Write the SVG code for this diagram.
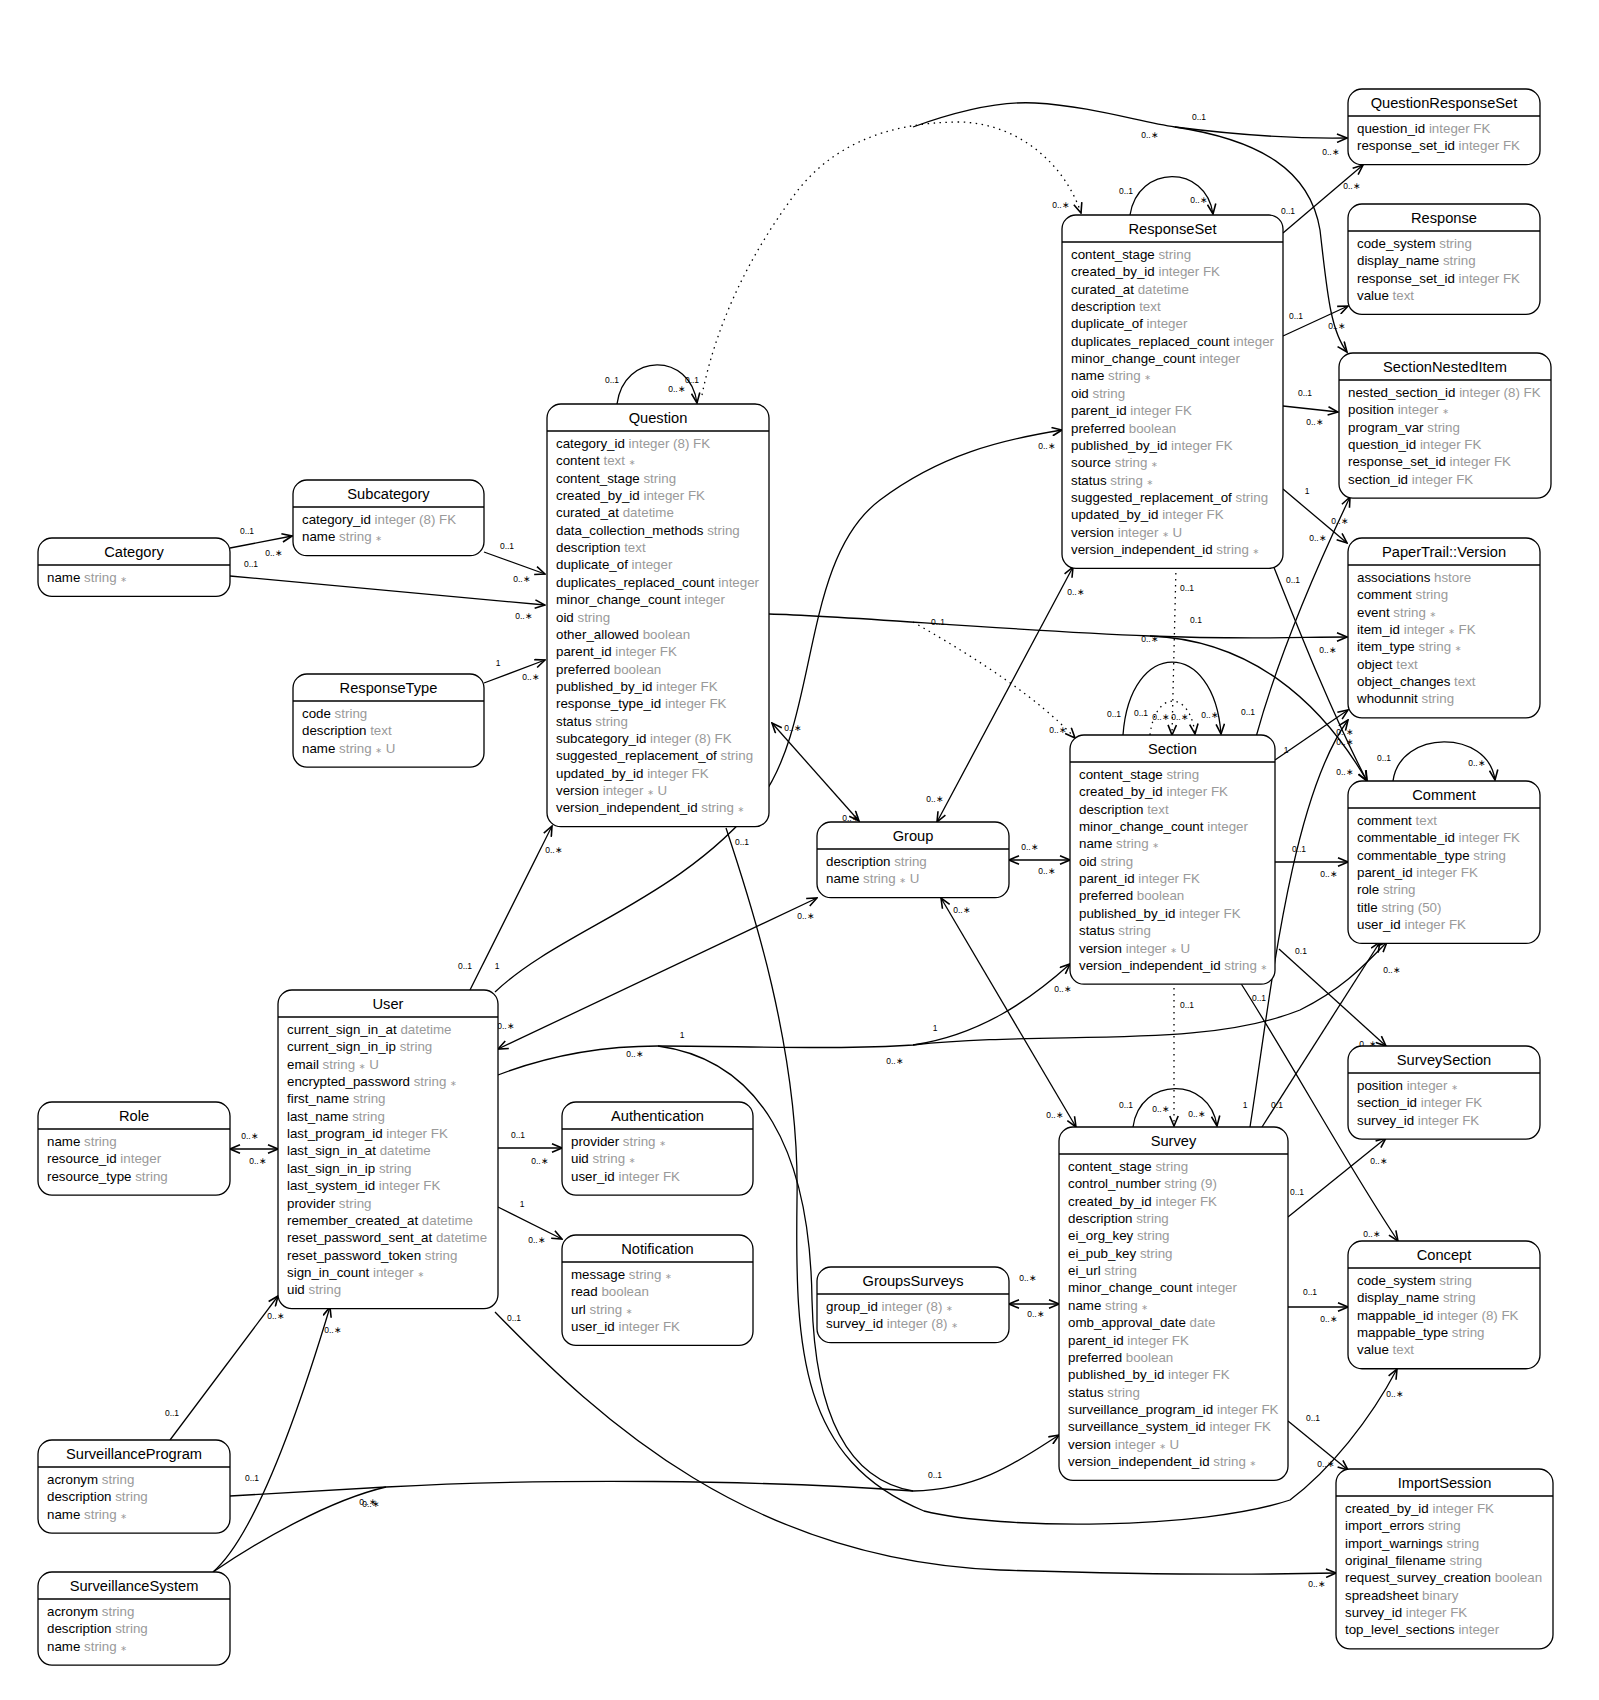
<svg xmlns="http://www.w3.org/2000/svg" width="1599" height="1700" viewBox="0 0 1599 1700">
<defs>
<style>
.box{fill:#fff;stroke:#000;stroke-width:1.3}
.hl{stroke:#000;stroke-width:1.3}
text{font-family:"Liberation Sans",Arial,sans-serif;fill:#000}
.t{font-size:14.67px;text-anchor:middle}
.a{font-size:13.33px}
.g{fill:#999}
.s{font-family:"DejaVu Sans",sans-serif;font-size:8px;fill:#999}
.e{fill:none;stroke:#000;stroke-width:1.3}
.d{stroke-dasharray:1.5 4.5}
.l{font-size:8.5px;text-anchor:middle}
</style>
<marker id="ar" viewBox="0 0 12 10" refX="11" refY="5" markerWidth="12" markerHeight="10" markerUnits="userSpaceOnUse" orient="auto-start-reverse"><path d="M1,0.8 L11,5 L1,9.2" fill="none" stroke="#000" stroke-width="1.6"/></marker>
</defs>
<rect width="1599" height="1700" fill="#fff"/>

<g id="connectors">
<path class="e" d="M230,548 L292,536" marker-end="url(#ar)"/>
<path class="e" d="M230,576 L545,605" marker-end="url(#ar)"/>
<path class="e" d="M484,552 L545,574" marker-end="url(#ar)"/>
<path class="e" d="M484,683 L545,660" marker-end="url(#ar)"/>
<path class="e" d="M617,404 C624,352 690,352 697,403" marker-end="url(#ar)"/>
<path class="e d" d="M702,395 C715,330 745,260 798,190 C830,150 880,122 961,122 C1020,124 1065,165 1081,213" marker-end="url(#ar)"/>
<path class="e" d="M913,127 C960,110 1000,101 1035,103 C1090,106 1140,122 1175,127 C1230,134 1290,139 1347,138" marker-end="url(#ar)"/>
<path class="e" d="M1175,127 C1260,140 1310,170 1320,230 C1327,290 1330,330 1347,352" marker-end="url(#ar)"/>
<path class="e" d="M1283,233 L1363,165" marker-end="url(#ar)"/>
<path class="e" d="M1283,336 L1348,306" marker-end="url(#ar)"/>
<path class="e" d="M1283,406 L1338,412" marker-end="url(#ar)"/>
<path class="e" d="M1283,489 L1347,543" marker-end="url(#ar)"/>
<path class="e" d="M1273,565 C1295,620 1330,710 1367,781" marker-end="url(#ar)"/>
<path class="e d" d="M1176,567 L1172,735" marker-end="url(#ar)"/>
<path class="e" d="M937,822 L1073,567" marker-start="url(#ar)" marker-end="url(#ar)"/>
<path class="e" d="M495,992 C560,930 680,900 760,800 C820,720 800,560 880,500 C940,455 1000,440 1062,430" marker-end="url(#ar)"/>
<path class="e" d="M470,990 L552,826" marker-end="url(#ar)"/>
<path class="e" d="M498,1049 L817,898" marker-start="url(#ar)" marker-end="url(#ar)"/>
<path class="e" d="M498,1148 L562,1148" marker-end="url(#ar)"/>
<path class="e" d="M498,1207 L562,1239" marker-end="url(#ar)"/>
<path class="e" d="M230,1149 L278,1149" marker-start="url(#ar)" marker-end="url(#ar)"/>
<path class="e" d="M170,1440 L278,1296" marker-end="url(#ar)"/>
<path class="e" d="M213,1572 C250,1540 290,1440 330,1307" marker-end="url(#ar)"/>
<path class="e" d="M230,1496 L386,1487"/>
<path class="e" d="M213,1572 C260,1540 330,1500 386,1487"/>
<path class="e" d="M386,1487 C550,1478 760,1480 913,1491 C980,1490 1020,1460 1059,1435" marker-end="url(#ar)"/>
<path class="e" d="M769,614 C850,616 1000,630 1150,636 C1250,640 1300,637 1347,637" marker-end="url(#ar)"/>
<path class="e" d="M1150,636 C1250,640 1320,700 1367,781" marker-end="url(#ar)"/>
<path class="e d" d="M913,622 C980,660 1040,700 1075,738" marker-end="url(#ar)"/>
<path class="e" d="M772,723 L859,821" marker-start="url(#ar)" marker-end="url(#ar)"/>
<path class="e" d="M1009,860 L1070,860" marker-start="url(#ar)" marker-end="url(#ar)"/>
<path class="e" d="M941,898 L1076,1127" marker-start="url(#ar)" marker-end="url(#ar)"/>
<path class="e" d="M1009,1304 L1059,1304" marker-start="url(#ar)" marker-end="url(#ar)"/>
<path class="e" d="M1256,737 C1280,650 1320,560 1350,497" marker-end="url(#ar)"/>
<path class="e" d="M1275,760 L1348,710" marker-end="url(#ar)"/>
<path class="e" d="M1250,1127 C1270,1000 1290,800 1348,720" marker-end="url(#ar)"/>
<path class="e" d="M1275,862 L1348,862" marker-end="url(#ar)"/>
<path class="e" d="M1279,949 L1386,1046" marker-end="url(#ar)"/>
<path class="e" d="M1288,1217 L1386,1138" marker-end="url(#ar)"/>
<path class="e" d="M1240,982 C1290,1060 1350,1170 1398,1241" marker-end="url(#ar)"/>
<path class="e" d="M1288,1307 L1348,1307" marker-end="url(#ar)"/>
<path class="e" d="M1288,1421 L1348,1470" marker-end="url(#ar)"/>
<path class="e" d="M1262,1127 L1380,942" marker-end="url(#ar)"/>
<path class="e" d="M495,1312 C600,1420 750,1560 1000,1570 C1150,1575 1250,1575 1336,1573" marker-end="url(#ar)"/>
<path class="e" d="M726,828 C750,900 800,1050 797,1200 C795,1350 800,1460 924,1511 C1000,1530 1200,1530 1290,1500 C1330,1470 1370,1420 1397,1369" marker-end="url(#ar)"/>
<path class="e" d="M498,1075 C550,1055 600,1046 658,1046 C740,1046 840,1050 913,1045 C980,1035 1030,1000 1070,964" marker-end="url(#ar)"/>
<path class="e" d="M913,1045 C1050,1030 1200,1050 1300,1010 C1340,990 1360,970 1387,942" marker-end="url(#ar)"/>
<path class="e" d="M658,1046 C760,1060 810,1150 812,1300 C815,1420 850,1480 913,1491"/>
<path class="e" d="M1123,735 C1130,638 1214,638 1221,734" marker-end="url(#ar)"/>
<path class="e d" d="M1150,735 C1155,690 1190,690 1195,734" marker-end="url(#ar)"/>
<path class="e" d="M1130,215 C1138,164 1206,164 1213,214" marker-end="url(#ar)"/>
<path class="e" d="M1133,1127 C1140,1076 1210,1076 1217,1126" marker-end="url(#ar)"/>
<path class="e d" d="M1174,982 L1174,1126" marker-end="url(#ar)"/>
<path class="e" d="M1393,781 C1400,729 1488,729 1495,780" marker-end="url(#ar)"/>

<g id="labels">
<text class="l" x="247" y="534">0..1</text><text class="l" x="274" y="556">0..∗</text>
<text class="l" x="251" y="567">0..1</text><text class="l" x="524" y="619">0..∗</text>
<text class="l" x="507" y="549">0..1</text><text class="l" x="522" y="582">0..∗</text>
<text class="l" x="498" y="666">1</text><text class="l" x="531" y="680">0..∗</text>
<text class="l" x="612" y="383">0..1</text><text class="l" x="677" y="392">0..∗</text>
<text class="l" x="692" y="383">0..1</text><text class="l" x="1061" y="208">0..∗</text>
<text class="l" x="1199" y="120">0..1</text><text class="l" x="1150" y="138">0..∗</text>
<text class="l" x="1331" y="155">0..∗</text>
<text class="l" x="1288" y="214">0..1</text><text class="l" x="1352" y="189">0..∗</text>
<text class="l" x="1296" y="319">0..1</text><text class="l" x="1337" y="329">0..∗</text>
<text class="l" x="1305" y="396">0..1</text><text class="l" x="1315" y="425">0..∗</text>
<text class="l" x="1307" y="494">1</text><text class="l" x="1340" y="524">0..∗</text>
<text class="l" x="1293" y="583">0..1</text><text class="l" x="1345" y="775">0..∗</text>
<text class="l" x="1187" y="591">0..1</text>
<text class="l" x="1076" y="595">0..∗</text><text class="l" x="935" y="802">0..∗</text>
<text class="l" x="497" y="969">1</text><text class="l" x="1047" y="449">0..∗</text>
<text class="l" x="465" y="969">0..1</text><text class="l" x="554" y="853">0..∗</text>
<text class="l" x="506" y="1029">0..∗</text><text class="l" x="806" y="919">0..∗</text>
<text class="l" x="518" y="1138">0..1</text><text class="l" x="540" y="1164">0..∗</text>
<text class="l" x="522" y="1207">1</text><text class="l" x="537" y="1243">0..∗</text>
<text class="l" x="250" y="1139">0..∗</text><text class="l" x="258" y="1164">0..∗</text>
<text class="l" x="172" y="1416">0..1</text><text class="l" x="276" y="1319">0..∗</text>
<text class="l" x="218" y="1529">0..1</text><text class="l" x="333" y="1333">0..∗</text>
<text class="l" x="252" y="1481">0..1</text><text class="l" x="368" y="1505">0..∗</text><text class="l" x="371" y="1507">0..∗</text>
<text class="l" x="938" y="625">0..1</text><text class="l" x="1196" y="623">0.1</text><text class="l" x="1150" y="642">0..∗</text><text class="l" x="1328" y="653">0..∗</text>
<text class="l" x="1058" y="733">0..∗</text>
<text class="l" x="793" y="731">0..∗</text><text class="l" x="851" y="821">0..∗</text>
<text class="l" x="1030" y="850">0..∗</text><text class="l" x="1047" y="874">0..∗</text>
<text class="l" x="962" y="913">0..∗</text><text class="l" x="1055" y="1118">0..∗</text>
<text class="l" x="1028" y="1281">0..∗</text><text class="l" x="1036" y="1317">0..∗</text>
<text class="l" x="1248" y="715">0..1</text><text class="l" x="1318" y="541">0..∗</text>
<text class="l" x="1286" y="753">1</text><text class="l" x="1345" y="735">0..∗</text>
<text class="l" x="1245" y="1108">1</text><text class="l" x="1345" y="745">0..∗</text>
<text class="l" x="1299" y="852">0..1</text><text class="l" x="1329" y="877">0..∗</text>
<text class="l" x="1301" y="954">0.1</text><text class="l" x="1368" y="1047">0..∗</text>
<text class="l" x="1297" y="1195">0..1</text><text class="l" x="1379" y="1164">0..∗</text>
<text class="l" x="1259" y="1001">0..1</text><text class="l" x="1372" y="1237">0..∗</text>
<text class="l" x="1310" y="1295">0..1</text><text class="l" x="1329" y="1322">0..∗</text>
<text class="l" x="1313" y="1421">0..1</text><text class="l" x="1326" y="1467">0..∗</text>
<text class="l" x="1277" y="1108">0.1</text><text class="l" x="1392" y="973">0..∗</text>
<text class="l" x="514" y="1321">0..1</text><text class="l" x="1317" y="1587">0..∗</text>
<text class="l" x="742" y="845">0..1</text><text class="l" x="1395" y="1397">0..∗</text>
<text class="l" x="682" y="1038">1</text><text class="l" x="635" y="1057">0..∗</text>
<text class="l" x="935" y="1031">1</text><text class="l" x="895" y="1064">0..∗</text><text class="l" x="1063" y="992">0..∗</text>
<text class="l" x="935" y="1478">0..1</text>
<text class="l" x="1126" y="194">0..1</text><text class="l" x="1199" y="203">0..∗</text>
<text class="l" x="1114" y="717">0..1</text><text class="l" x="1141" y="716">0..1</text><text class="l" x="1161" y="720">0..∗</text><text class="l" x="1180" y="720">0..∗</text><text class="l" x="1210" y="718">0..∗</text>
<text class="l" x="1126" y="1108">0..1</text><text class="l" x="1161" y="1112">0..∗</text><text class="l" x="1197" y="1117">0..∗</text><text class="l" x="1187" y="1008">0..1</text>
<text class="l" x="1384" y="761">0..1</text><text class="l" x="1477" y="766">0..∗</text>
</g>
</g>

<g id="Category" transform="translate(38,538)">
<rect class="box" width="192" height="58.35" rx="14"/><line class="hl" x1="0" y1="27" x2="192" y2="27"/>
<text class="t" x="96" y="18.5">Category</text>
<text class="a" x="9" y="44">name <tspan class="g">string</tspan> <tspan class="s">∗</tspan></text>
</g>

<g id="Subcategory" transform="translate(293,480)">
<rect class="box" width="191" height="75.7" rx="14"/><line class="hl" x1="0" y1="27" x2="191" y2="27"/>
<text class="t" x="95.5" y="18.5">Subcategory</text>
<text class="a" x="9" y="44">category_id <tspan class="g">integer (8) FK</tspan></text>
<text class="a" x="9" y="61.35">name <tspan class="g">string</tspan> <tspan class="s">∗</tspan></text>
</g>

<g id="ResponseType" transform="translate(293,674)">
<rect class="box" width="191" height="93.05" rx="14"/><line class="hl" x1="0" y1="27" x2="191" y2="27"/>
<text class="t" x="95.5" y="18.5">ResponseType</text>
<text class="a" x="9" y="44">code <tspan class="g">string</tspan></text>
<text class="a" x="9" y="61.35">description <tspan class="g">text</tspan></text>
<text class="a" x="9" y="78.7">name <tspan class="g">string</tspan> <tspan class="s">∗</tspan> <tspan class="g">U</tspan></text>
</g>

<g id="Question" transform="translate(547,404)">
<rect class="box" width="222" height="422.7" rx="14"/><line class="hl" x1="0" y1="27" x2="222" y2="27"/>
<text class="t" x="111" y="18.5">Question</text>
<text class="a" x="9" y="44">category_id <tspan class="g">integer (8) FK</tspan></text>
<text class="a" x="9" y="61.35">content <tspan class="g">text</tspan> <tspan class="s">∗</tspan></text>
<text class="a" x="9" y="78.7">content_stage <tspan class="g">string</tspan></text>
<text class="a" x="9" y="96.05">created_by_id <tspan class="g">integer FK</tspan></text>
<text class="a" x="9" y="113.4">curated_at <tspan class="g">datetime</tspan></text>
<text class="a" x="9" y="130.75">data_collection_methods <tspan class="g">string</tspan></text>
<text class="a" x="9" y="148.1">description <tspan class="g">text</tspan></text>
<text class="a" x="9" y="165.45">duplicate_of <tspan class="g">integer</tspan></text>
<text class="a" x="9" y="182.8">duplicates_replaced_count <tspan class="g">integer</tspan></text>
<text class="a" x="9" y="200.15">minor_change_count <tspan class="g">integer</tspan></text>
<text class="a" x="9" y="217.5">oid <tspan class="g">string</tspan></text>
<text class="a" x="9" y="234.85">other_allowed <tspan class="g">boolean</tspan></text>
<text class="a" x="9" y="252.2">parent_id <tspan class="g">integer FK</tspan></text>
<text class="a" x="9" y="269.55">preferred <tspan class="g">boolean</tspan></text>
<text class="a" x="9" y="286.9">published_by_id <tspan class="g">integer FK</tspan></text>
<text class="a" x="9" y="304.25">response_type_id <tspan class="g">integer FK</tspan></text>
<text class="a" x="9" y="321.6">status <tspan class="g">string</tspan></text>
<text class="a" x="9" y="338.95">subcategory_id <tspan class="g">integer (8) FK</tspan></text>
<text class="a" x="9" y="356.3">suggested_replacement_of <tspan class="g">string</tspan></text>
<text class="a" x="9" y="373.65">updated_by_id <tspan class="g">integer FK</tspan></text>
<text class="a" x="9" y="391">version <tspan class="g">integer</tspan> <tspan class="s">∗</tspan> <tspan class="g">U</tspan></text>
<text class="a" x="9" y="408.35">version_independent_id <tspan class="g">string</tspan> <tspan class="s">∗</tspan></text>
</g>

<g id="User" transform="translate(278,990)">
<rect class="box" width="220" height="318.6" rx="14"/><line class="hl" x1="0" y1="27" x2="220" y2="27"/>
<text class="t" x="110" y="18.5">User</text>
<text class="a" x="9" y="44">current_sign_in_at <tspan class="g">datetime</tspan></text>
<text class="a" x="9" y="61.35">current_sign_in_ip <tspan class="g">string</tspan></text>
<text class="a" x="9" y="78.7">email <tspan class="g">string</tspan> <tspan class="s">∗</tspan> <tspan class="g">U</tspan></text>
<text class="a" x="9" y="96.05">encrypted_password <tspan class="g">string</tspan> <tspan class="s">∗</tspan></text>
<text class="a" x="9" y="113.4">first_name <tspan class="g">string</tspan></text>
<text class="a" x="9" y="130.75">last_name <tspan class="g">string</tspan></text>
<text class="a" x="9" y="148.1">last_program_id <tspan class="g">integer FK</tspan></text>
<text class="a" x="9" y="165.45">last_sign_in_at <tspan class="g">datetime</tspan></text>
<text class="a" x="9" y="182.8">last_sign_in_ip <tspan class="g">string</tspan></text>
<text class="a" x="9" y="200.15">last_system_id <tspan class="g">integer FK</tspan></text>
<text class="a" x="9" y="217.5">provider <tspan class="g">string</tspan></text>
<text class="a" x="9" y="234.85">remember_created_at <tspan class="g">datetime</tspan></text>
<text class="a" x="9" y="252.2">reset_password_sent_at <tspan class="g">datetime</tspan></text>
<text class="a" x="9" y="269.55">reset_password_token <tspan class="g">string</tspan></text>
<text class="a" x="9" y="286.9">sign_in_count <tspan class="g">integer</tspan> <tspan class="s">∗</tspan></text>
<text class="a" x="9" y="304.25">uid <tspan class="g">string</tspan></text>
</g>

<g id="Role" transform="translate(38,1102)">
<rect class="box" width="192" height="93.05" rx="14"/><line class="hl" x1="0" y1="27" x2="192" y2="27"/>
<text class="t" x="96" y="18.5">Role</text>
<text class="a" x="9" y="44">name <tspan class="g">string</tspan></text>
<text class="a" x="9" y="61.35">resource_id <tspan class="g">integer</tspan></text>
<text class="a" x="9" y="78.7">resource_type <tspan class="g">string</tspan></text>
</g>

<g id="SurveillanceProgram" transform="translate(38,1440)">
<rect class="box" width="192" height="93.05" rx="14"/><line class="hl" x1="0" y1="27" x2="192" y2="27"/>
<text class="t" x="96" y="18.5">SurveillanceProgram</text>
<text class="a" x="9" y="44">acronym <tspan class="g">string</tspan></text>
<text class="a" x="9" y="61.35">description <tspan class="g">string</tspan></text>
<text class="a" x="9" y="78.7">name <tspan class="g">string</tspan> <tspan class="s">∗</tspan></text>
</g>

<g id="SurveillanceSystem" transform="translate(38,1572)">
<rect class="box" width="192" height="93.05" rx="14"/><line class="hl" x1="0" y1="27" x2="192" y2="27"/>
<text class="t" x="96" y="18.5">SurveillanceSystem</text>
<text class="a" x="9" y="44">acronym <tspan class="g">string</tspan></text>
<text class="a" x="9" y="61.35">description <tspan class="g">string</tspan></text>
<text class="a" x="9" y="78.7">name <tspan class="g">string</tspan> <tspan class="s">∗</tspan></text>
</g>

<g id="Authentication" transform="translate(562,1102)">
<rect class="box" width="191" height="93.05" rx="14"/><line class="hl" x1="0" y1="27" x2="191" y2="27"/>
<text class="t" x="95.5" y="18.5">Authentication</text>
<text class="a" x="9" y="44">provider <tspan class="g">string</tspan> <tspan class="s">∗</tspan></text>
<text class="a" x="9" y="61.35">uid <tspan class="g">string</tspan> <tspan class="s">∗</tspan></text>
<text class="a" x="9" y="78.7">user_id <tspan class="g">integer FK</tspan></text>
</g>

<g id="Notification" transform="translate(562,1235)">
<rect class="box" width="191" height="110.4" rx="14"/><line class="hl" x1="0" y1="27" x2="191" y2="27"/>
<text class="t" x="95.5" y="18.5">Notification</text>
<text class="a" x="9" y="44">message <tspan class="g">string</tspan> <tspan class="s">∗</tspan></text>
<text class="a" x="9" y="61.35">read <tspan class="g">boolean</tspan></text>
<text class="a" x="9" y="78.7">url <tspan class="g">string</tspan> <tspan class="s">∗</tspan></text>
<text class="a" x="9" y="96.05">user_id <tspan class="g">integer FK</tspan></text>
</g>

<g id="Group" transform="translate(817,822)">
<rect class="box" width="192" height="75.7" rx="14"/><line class="hl" x1="0" y1="27" x2="192" y2="27"/>
<text class="t" x="96" y="18.5">Group</text>
<text class="a" x="9" y="44">description <tspan class="g">string</tspan></text>
<text class="a" x="9" y="61.35">name <tspan class="g">string</tspan> <tspan class="s">∗</tspan> <tspan class="g">U</tspan></text>
</g>

<g id="GroupsSurveys" transform="translate(817,1267)">
<rect class="box" width="192" height="75.7" rx="14"/><line class="hl" x1="0" y1="27" x2="192" y2="27"/>
<text class="t" x="96" y="18.5">GroupsSurveys</text>
<text class="a" x="9" y="44">group_id <tspan class="g">integer (8)</tspan> <tspan class="s">∗</tspan></text>
<text class="a" x="9" y="61.35">survey_id <tspan class="g">integer (8)</tspan> <tspan class="s">∗</tspan></text>
</g>

<g id="ResponseSet" transform="translate(1062,215)">
<rect class="box" width="221" height="353.3" rx="14"/><line class="hl" x1="0" y1="27" x2="221" y2="27"/>
<text class="t" x="110.5" y="18.5">ResponseSet</text>
<text class="a" x="9" y="44">content_stage <tspan class="g">string</tspan></text>
<text class="a" x="9" y="61.35">created_by_id <tspan class="g">integer FK</tspan></text>
<text class="a" x="9" y="78.7">curated_at <tspan class="g">datetime</tspan></text>
<text class="a" x="9" y="96.05">description <tspan class="g">text</tspan></text>
<text class="a" x="9" y="113.4">duplicate_of <tspan class="g">integer</tspan></text>
<text class="a" x="9" y="130.75">duplicates_replaced_count <tspan class="g">integer</tspan></text>
<text class="a" x="9" y="148.1">minor_change_count <tspan class="g">integer</tspan></text>
<text class="a" x="9" y="165.45">name <tspan class="g">string</tspan> <tspan class="s">∗</tspan></text>
<text class="a" x="9" y="182.8">oid <tspan class="g">string</tspan></text>
<text class="a" x="9" y="200.15">parent_id <tspan class="g">integer FK</tspan></text>
<text class="a" x="9" y="217.5">preferred <tspan class="g">boolean</tspan></text>
<text class="a" x="9" y="234.85">published_by_id <tspan class="g">integer FK</tspan></text>
<text class="a" x="9" y="252.2">source <tspan class="g">string</tspan> <tspan class="s">∗</tspan></text>
<text class="a" x="9" y="269.55">status <tspan class="g">string</tspan> <tspan class="s">∗</tspan></text>
<text class="a" x="9" y="286.9">suggested_replacement_of <tspan class="g">string</tspan></text>
<text class="a" x="9" y="304.25">updated_by_id <tspan class="g">integer FK</tspan></text>
<text class="a" x="9" y="321.6">version <tspan class="g">integer</tspan> <tspan class="s">∗</tspan> <tspan class="g">U</tspan></text>
<text class="a" x="9" y="338.95">version_independent_id <tspan class="g">string</tspan> <tspan class="s">∗</tspan></text>
</g>

<g id="Section" transform="translate(1070,735)">
<rect class="box" width="205" height="249.2" rx="14"/><line class="hl" x1="0" y1="27" x2="205" y2="27"/>
<text class="t" x="102.5" y="18.5">Section</text>
<text class="a" x="9" y="44">content_stage <tspan class="g">string</tspan></text>
<text class="a" x="9" y="61.35">created_by_id <tspan class="g">integer FK</tspan></text>
<text class="a" x="9" y="78.7">description <tspan class="g">text</tspan></text>
<text class="a" x="9" y="96.05">minor_change_count <tspan class="g">integer</tspan></text>
<text class="a" x="9" y="113.4">name <tspan class="g">string</tspan> <tspan class="s">∗</tspan></text>
<text class="a" x="9" y="130.75">oid <tspan class="g">string</tspan></text>
<text class="a" x="9" y="148.1">parent_id <tspan class="g">integer FK</tspan></text>
<text class="a" x="9" y="165.45">preferred <tspan class="g">boolean</tspan></text>
<text class="a" x="9" y="182.8">published_by_id <tspan class="g">integer FK</tspan></text>
<text class="a" x="9" y="200.15">status <tspan class="g">string</tspan></text>
<text class="a" x="9" y="217.5">version <tspan class="g">integer</tspan> <tspan class="s">∗</tspan> <tspan class="g">U</tspan></text>
<text class="a" x="9" y="234.85">version_independent_id <tspan class="g">string</tspan> <tspan class="s">∗</tspan></text>
</g>

<g id="Survey" transform="translate(1059,1127)">
<rect class="box" width="229" height="353.3" rx="14"/><line class="hl" x1="0" y1="27" x2="229" y2="27"/>
<text class="t" x="114.5" y="18.5">Survey</text>
<text class="a" x="9" y="44">content_stage <tspan class="g">string</tspan></text>
<text class="a" x="9" y="61.35">control_number <tspan class="g">string (9)</tspan></text>
<text class="a" x="9" y="78.7">created_by_id <tspan class="g">integer FK</tspan></text>
<text class="a" x="9" y="96.05">description <tspan class="g">string</tspan></text>
<text class="a" x="9" y="113.4">ei_org_key <tspan class="g">string</tspan></text>
<text class="a" x="9" y="130.75">ei_pub_key <tspan class="g">string</tspan></text>
<text class="a" x="9" y="148.1">ei_url <tspan class="g">string</tspan></text>
<text class="a" x="9" y="165.45">minor_change_count <tspan class="g">integer</tspan></text>
<text class="a" x="9" y="182.8">name <tspan class="g">string</tspan> <tspan class="s">∗</tspan></text>
<text class="a" x="9" y="200.15">omb_approval_date <tspan class="g">date</tspan></text>
<text class="a" x="9" y="217.5">parent_id <tspan class="g">integer FK</tspan></text>
<text class="a" x="9" y="234.85">preferred <tspan class="g">boolean</tspan></text>
<text class="a" x="9" y="252.2">published_by_id <tspan class="g">integer FK</tspan></text>
<text class="a" x="9" y="269.55">status <tspan class="g">string</tspan></text>
<text class="a" x="9" y="286.9">surveillance_program_id <tspan class="g">integer FK</tspan></text>
<text class="a" x="9" y="304.25">surveillance_system_id <tspan class="g">integer FK</tspan></text>
<text class="a" x="9" y="321.6">version <tspan class="g">integer</tspan> <tspan class="s">∗</tspan> <tspan class="g">U</tspan></text>
<text class="a" x="9" y="338.95">version_independent_id <tspan class="g">string</tspan> <tspan class="s">∗</tspan></text>
</g>

<g id="QuestionResponseSet" transform="translate(1348,89)">
<rect class="box" width="192" height="75.7" rx="14"/><line class="hl" x1="0" y1="27" x2="192" y2="27"/>
<text class="t" x="96" y="18.5">QuestionResponseSet</text>
<text class="a" x="9" y="44">question_id <tspan class="g">integer FK</tspan></text>
<text class="a" x="9" y="61.35">response_set_id <tspan class="g">integer FK</tspan></text>
</g>

<g id="Response" transform="translate(1348,204)">
<rect class="box" width="192" height="110.4" rx="14"/><line class="hl" x1="0" y1="27" x2="192" y2="27"/>
<text class="t" x="96" y="18.5">Response</text>
<text class="a" x="9" y="44">code_system <tspan class="g">string</tspan></text>
<text class="a" x="9" y="61.35">display_name <tspan class="g">string</tspan></text>
<text class="a" x="9" y="78.7">response_set_id <tspan class="g">integer FK</tspan></text>
<text class="a" x="9" y="96.05">value <tspan class="g">text</tspan></text>
</g>

<g id="SectionNestedItem" transform="translate(1339,353)">
<rect class="box" width="212" height="145.1" rx="14"/><line class="hl" x1="0" y1="27" x2="212" y2="27"/>
<text class="t" x="106" y="18.5">SectionNestedItem</text>
<text class="a" x="9" y="44">nested_section_id <tspan class="g">integer (8) FK</tspan></text>
<text class="a" x="9" y="61.35">position <tspan class="g">integer</tspan> <tspan class="s">∗</tspan></text>
<text class="a" x="9" y="78.7">program_var <tspan class="g">string</tspan></text>
<text class="a" x="9" y="96.05">question_id <tspan class="g">integer FK</tspan></text>
<text class="a" x="9" y="113.4">response_set_id <tspan class="g">integer FK</tspan></text>
<text class="a" x="9" y="130.75">section_id <tspan class="g">integer FK</tspan></text>
</g>

<g id="PaperTrailVersion" transform="translate(1348,538)">
<rect class="box" width="192" height="179.8" rx="14"/><line class="hl" x1="0" y1="27" x2="192" y2="27"/>
<text class="t" x="96" y="18.5">PaperTrail::Version</text>
<text class="a" x="9" y="44">associations <tspan class="g">hstore</tspan></text>
<text class="a" x="9" y="61.35">comment <tspan class="g">string</tspan></text>
<text class="a" x="9" y="78.7">event <tspan class="g">string</tspan> <tspan class="s">∗</tspan></text>
<text class="a" x="9" y="96.05">item_id <tspan class="g">integer</tspan> <tspan class="s">∗</tspan> <tspan class="g">FK</tspan></text>
<text class="a" x="9" y="113.4">item_type <tspan class="g">string</tspan> <tspan class="s">∗</tspan></text>
<text class="a" x="9" y="130.75">object <tspan class="g">text</tspan></text>
<text class="a" x="9" y="148.1">object_changes <tspan class="g">text</tspan></text>
<text class="a" x="9" y="165.45">whodunnit <tspan class="g">string</tspan></text>
</g>

<g id="Comment" transform="translate(1348,781)">
<rect class="box" width="192" height="162.45" rx="14"/><line class="hl" x1="0" y1="27" x2="192" y2="27"/>
<text class="t" x="96" y="18.5">Comment</text>
<text class="a" x="9" y="44">comment <tspan class="g">text</tspan></text>
<text class="a" x="9" y="61.35">commentable_id <tspan class="g">integer FK</tspan></text>
<text class="a" x="9" y="78.7">commentable_type <tspan class="g">string</tspan></text>
<text class="a" x="9" y="96.05">parent_id <tspan class="g">integer FK</tspan></text>
<text class="a" x="9" y="113.4">role <tspan class="g">string</tspan></text>
<text class="a" x="9" y="130.75">title <tspan class="g">string (50)</tspan></text>
<text class="a" x="9" y="148.1">user_id <tspan class="g">integer FK</tspan></text>
</g>

<g id="SurveySection" transform="translate(1348,1046)">
<rect class="box" width="192" height="93.05" rx="14"/><line class="hl" x1="0" y1="27" x2="192" y2="27"/>
<text class="t" x="96" y="18.5">SurveySection</text>
<text class="a" x="9" y="44">position <tspan class="g">integer</tspan> <tspan class="s">∗</tspan></text>
<text class="a" x="9" y="61.35">section_id <tspan class="g">integer FK</tspan></text>
<text class="a" x="9" y="78.7">survey_id <tspan class="g">integer FK</tspan></text>
</g>

<g id="Concept" transform="translate(1348,1241)">
<rect class="box" width="192" height="127.75" rx="14"/><line class="hl" x1="0" y1="27" x2="192" y2="27"/>
<text class="t" x="96" y="18.5">Concept</text>
<text class="a" x="9" y="44">code_system <tspan class="g">string</tspan></text>
<text class="a" x="9" y="61.35">display_name <tspan class="g">string</tspan></text>
<text class="a" x="9" y="78.7">mappable_id <tspan class="g">integer (8) FK</tspan></text>
<text class="a" x="9" y="96.05">mappable_type <tspan class="g">string</tspan></text>
<text class="a" x="9" y="113.4">value <tspan class="g">text</tspan></text>
</g>

<g id="ImportSession" transform="translate(1336,1469)">
<rect class="box" width="217" height="179.8" rx="14"/><line class="hl" x1="0" y1="27" x2="217" y2="27"/>
<text class="t" x="108.5" y="18.5">ImportSession</text>
<text class="a" x="9" y="44">created_by_id <tspan class="g">integer FK</tspan></text>
<text class="a" x="9" y="61.35">import_errors <tspan class="g">string</tspan></text>
<text class="a" x="9" y="78.7">import_warnings <tspan class="g">string</tspan></text>
<text class="a" x="9" y="96.05">original_filename <tspan class="g">string</tspan></text>
<text class="a" x="9" y="113.4">request_survey_creation <tspan class="g">boolean</tspan></text>
<text class="a" x="9" y="130.75">spreadsheet <tspan class="g">binary</tspan></text>
<text class="a" x="9" y="148.1">survey_id <tspan class="g">integer FK</tspan></text>
<text class="a" x="9" y="165.45">top_level_sections <tspan class="g">integer</tspan></text>
</g>
</svg>
